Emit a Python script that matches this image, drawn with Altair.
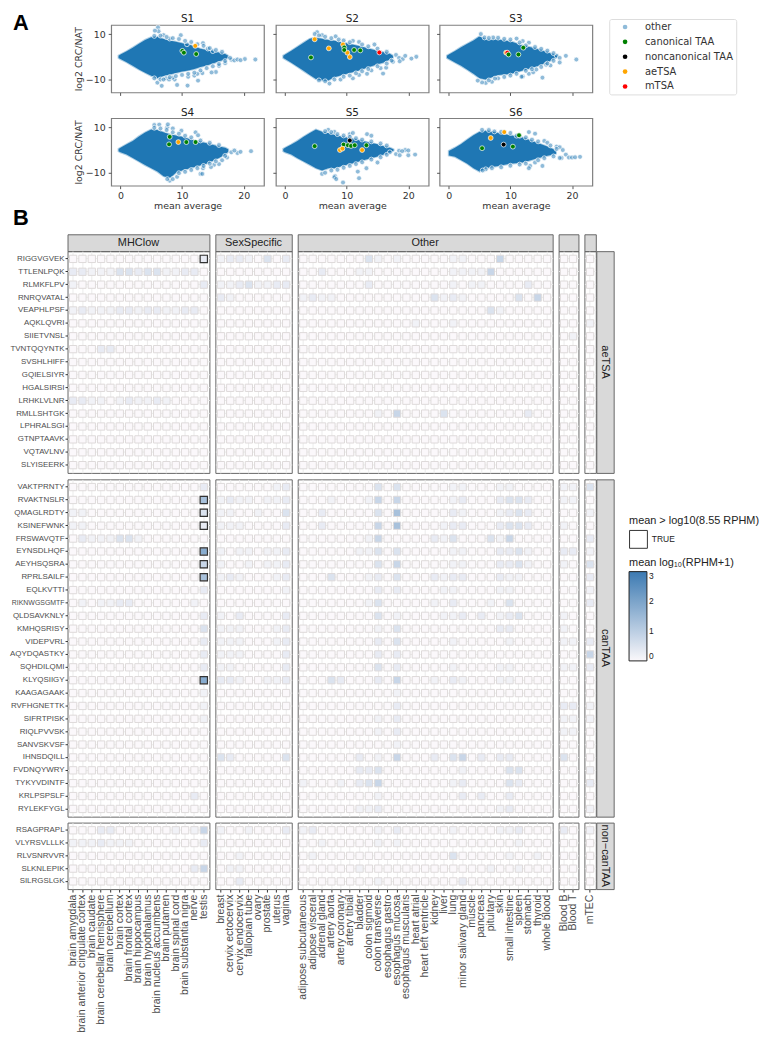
import altair as alt
import pandas as pd

BLUE = "#1f77b4"
CATS = ["other", "canonical TAA", "noncanonical TAA", "aeTSA", "mTSA"]
CAT_COLORS = ["rgba(31,119,180,0.5)", "#008000", "#000000", "#ffa500", "#ff0000"]

# ---- A: dense body of each cloud, read as x / upper / lower edge
ENV = {
    "S1": [(-0.3,0.5,-0.5),(0,1,-1),(1,2.4,-2.4),(2,4,-4),(3,5.7,-5.6),(4,7.4,-7),(5,8.6,-8.4),(6,8.8,-9.5),(7,7.8,-8.5),(8,7.2,-7.8),(9,6.6,-7.2),(10,6,-6.5),(11,5.5,-6),(12,4.5,-5.4),(13,3.5,-4.5),(14,3,-3.8),(15,2.4,-3),(16,1.9,-2),(17,1.2,-1.2),(17.5,0.4,-0.4)],
    "S2": [(-0.3,0.5,-0.5),(0,1,-1),(1,2.6,-2.6),(2,4.4,-4.4),(3,6.2,-6.2),(4,7.9,-8),(5,8.5,-9.8),(6,7.9,-10.5),(7,7.4,-10.5),(8,7,-9),(9,6.5,-8.2),(10,6,-7.5),(12,4.7,-6),(14,3.3,-4.2),(15,2.6,-3.3),(16,2,-2.5),(17,1.3,-1.2),(17.5,0.5,-0.5)],
    "S3": [(-0.3,0.5,-0.5),(0,1,-1),(1,2.5,-2.5),(2,4.2,-4),(3,5.7,-5.7),(4,7.2,-7.5),(5,9,-9.5),(6,7.6,-10),(7,7.6,-9),(8,7.6,-8),(10,6.8,-7.6),(12,5,-6),(14,3.8,-4.5),(16,2,-2.5),(17,1,-1),(17.6,0.3,-0.3)],
    "S4": [(-0.3,0.5,-0.5),(0,1,-1),(1,2.5,-2),(2,4,-3.5),(3,6,-5),(4,7.7,-6.6),(5,9,-8),(6,8.8,-9.5),(7,7.8,-11.5),(8,7,-12.4),(9,6.4,-10),(10,5.8,-9),(12,4.2,-7.5),(14,3,-6),(16,1.6,-3.5),(17,1,-2),(17.5,0.3,-0.8)],
    "S5": [(-0.3,0.5,-0.5),(0,1,-1),(1,2.4,-2),(2,4,-3.6),(3,5.8,-5),(4,7.5,-6.5),(5,9,-8),(6,8,-9),(7,7.5,-8),(8,6.8,-8),(9,6,-7.2),(10,5.5,-6.5),(11,5,-5.8),(12,4.3,-5),(13,3.7,-4.3),(15,2.5,-2.8),(16,1.7,-2),(17,1,-1),(17.6,0.3,-0.3)],
    "S6": [(0,-0.4,-2.4),(1,1,-3),(2,2.6,-4.5),(3,4.6,-6),(4,6.5,-8),(5,8,-9.5),(6,8.5,-8),(7,8,-7.5),(8,7.5,-7),(10,6.5,-6),(12,5.5,-5.5),(14,3.5,-4),(16,1.5,-2.5),(17,0.3,-2),(17.4,-0.6,-1.6)],
}
# ---- A: scattered points outside the dense body
OTHER = {
    "S1": [(6.1,12.9),(6.2,11.2),(5.6,11.5),(7,9.5),(8,8),(9.8,9.5),(10.8,5.5),(13.4,6),(14.2,3.6),(15,2.5),(18,-1.3),(18.5,-1.6),(19,-1.2),(20.2,-1),(21.9,-1.2),(17.8,-0.5),(19.5,-1.5),(17,-2.8),(16,-4),(15.5,-6.7),(14.8,-6.9),(13.3,-7.2),(12,-8.3),(12.6,-10.5),(10.9,-12.7),(9.2,-12.4),(6.7,-12.8),(6,-11.4),(8.8,-10),(8.5,-9.2),(11,-8.8),(12.5,-7.5),(7.4,-9.5),(7.9,-10),
           (5.5,9.2),(6.5,9.3),(7.5,8.7),(8.5,8.2),(9.5,7.8),(10.5,7),(11.5,6.5),(12.5,5.5),(13.5,4.8),(14.5,3.8),(15.5,3),(16.5,2.2),(5.5,-9.5),(6.5,-10),(7,-10),(8,-9),(9,-8.5),(10,-8),(11,-7.5),(12,-7),(13,-6),(14,-5),(15,-4.2),(16,-3.2),(17,-1.9)],
    "S2": [(5.2,10.8),(4.8,10),(6,9.5),(8.2,9),(8.7,7.6),(11,7),(12,6.5),(14.5,5.4),(18,0.8),(18.5,-0.5),(19.1,-1),(18.6,-2),(19.5,0.4),(20.5,-0.8),(21.3,0),(16.4,-4.8),(15.9,-7.4),(14,-6),(13.3,-7.5),(11,-9.5),(9,-10),(7.2,-11.8),(6.5,-10.8),(12,-8),(17.5,-2.2),(15.5,-5),
           (5.5,9.4),(6.5,8.8),(7.5,8.2),(9.5,7.2),(10.5,6.4),(12.5,5.4),(13.5,4.6),(15,3.6),(16.5,2.2),(5.5,-10.4),(8,-10),(9.5,-8.8),(10.5,-8.3),(11.5,-7.3),(12.5,-6.4),(13.5,-5.4),(15,-4.2),(16.5,-3),(17.3,-1.7)],
    "S3": [(5.2,10),(5.8,8.5),(7.2,8.5),(8,8.4),(10,7.6),(11,8),(12,6.9),(13,6.2),(17.5,0.5),(19,0.4),(18,-0.5),(20.7,-1.2),(18,-2.5),(15.8,-3.5),(16.5,-3.8),(15,-4.5),(15.2,-9.2),(12,-8.7),(11.8,-8.8),(13,-7.5),(13.7,-6.8),(14.2,-5.6),(7,-11),(6,-11.5),(5.4,-11.3),(8,-9.5),(4.7,-10.5),
           (6.5,8.3),(9,7.9),(11.5,6.3),(12.5,5),(14,4.3),(15,3.5),(16,2.7),(17,1.6),(6.5,-10.4),(7.5,-9.6),(9,-8.9),(10,-8.3),(11,-7.5),(12.5,-6.2),(13.5,-5.5),(16,-3),(17,-1.8)],
    "S4": [(5.5,11),(6.3,11.2),(7.6,10),(7.7,11.3),(8.5,9.5),(9.9,8.5),(12.2,7.8),(12.6,6.5),(18,-1),(19,-1.3),(21.2,-0.5),(19.5,-0.8),(18.5,-0.2),(16.5,-4.5),(17.3,-3.3),(16,-6.2),(15.2,-6.5),(13.4,-8),(13,-10.5),(8,-13.5),(7.6,-12.8),(8.5,-12.8),(9.2,-11.8),(13.3,-10.5),(14.7,-7.5),
           (5.5,9.8),(6.5,9.5),(7.5,8.8),(8.5,7.8),(9.5,7.2),(10.5,6.3),(11.5,5.6),(13,4.2),(14.5,3.2),(16,2.2),(9.5,-10.2),(10.5,-9.6),(11.5,-8.8),(12.5,-8),(13.5,-7),(14.5,-6),(15.5,-5),(17,-2.6)],
    "S5": [(7,8.9),(8,8),(10.5,7),(11,7.5),(13.3,7),(14,6.3),(8.1,-11.5),(8,-12),(8.3,-12.8),(9.4,-14.3),(6,-10.5),(6.5,-10),(12,-12.4),(11.8,-9.5),(13.2,-8),(15,-5.5),(17,-1),(18,-1.8),(18.5,-0.3),(19.5,0),(20,-2.3),(21.1,-2),(20,-0.2),(19,-0.5),(18.6,-2.3),
           (6.5,8.3),(7.5,7.9),(8.5,7),(9.5,6.4),(10.5,5.8),(11.5,5.2),(12.5,4.6),(14,3.8),(15.5,2.9),(16.5,2),(7.5,-9),(8.5,-8.7),(9.5,-7.8),(10.5,-7),(11.5,-6.2),(12.5,-5.4),(14,-4.2),(15.5,-3.2),(16.5,-2.1)],
    "S6": [(5.4,8.9),(7.4,8.2),(9,8),(10,7.5),(11,6.3),(13,7.9),(14,7.2),(15.5,4),(16,3.2),(17.5,1.5),(18,1.2),(18.5,0),(19,-2),(18.3,-3.5),(19.5,-3.3),(20,-3.3),(20.5,-3.2),(21.3,-3),(18,-3.5),(13.2,-7),(13,-8),(15.2,-7),(14,-5.5),(6,-8.5),
           (6.5,8.8),(8.5,8),(11.5,6.3),(12.5,5.6),(13.5,4.6),(14.5,3.8),(16.5,2),(17.5,0.5),(5.5,-9),(7,-8),(8.5,-7.6),(10,-6.9),(11.5,-6.4),(12.5,-6),(14.5,-4.5),(15.5,-3.6),(17,-2.8)],
}
# ---- A: labelled peptides
SPECIAL = {
    "S1": [("canonical TAA",10.05,2.6),("canonical TAA",10.3,1.8),("canonical TAA",12.3,1.2),("aeTSA",12.15,4.8)],
    "S2": [("aeTSA",4.8,7.7),("aeTSA",7.1,3.7),("aeTSA",9.4,5.4),("aeTSA",10.1,1.8),("aeTSA",10.5,-0.1),("canonical TAA",4.2,-0.3),("canonical TAA",9.6,4.1),("canonical TAA",9.6,3),("canonical TAA",11.2,3),("canonical TAA",12.2,2.8),("mTSA",15.3,1.9)],
    "S3": [("aeTSA",9.3,1.8),("mTSA",9.5,1.8),("canonical TAA",9.7,1),("canonical TAA",11.3,1),("canonical TAA",12.1,4)],
    "S4": [("canonical TAA",8,5.8),("canonical TAA",7.9,2.5),("canonical TAA",10.7,3.5),("canonical TAA",12.2,3.5),("aeTSA",9.4,3.5)],
    "S5": [("canonical TAA",4.8,1.7),("canonical TAA",9.5,2.4),("canonical TAA",10.2,2.1),("canonical TAA",10.7,1.8),("canonical TAA",11.3,2.1),("canonical TAA",13.2,2.1),("noncanonical TAA",10.5,4.2),("aeTSA",8.9,0),("aeTSA",9.3,0.6),("aeTSA",12.5,0)],
    "S6": [("canonical TAA",5.4,0.8),("canonical TAA",10.4,1.5),("canonical TAA",11.4,6.5),("noncanonical TAA",8.9,2.4),("aeTSA",6.8,5.3),("aeTSA",9,7.9)],
}

# ---- B: tissues
MHC = ["brain amygdala","brain anterior cingulate cortex","brain caudate","brain cerebellar hemisphere","brain cerebellum","brain cortex","brain frontal cortex","brain hippocampus","brain hypothalamus","brain nucleus accumbens","brain putamen","brain spinal cord","brain substantia nigra","nerve","testis"]
SEX = ["breast","cervix ectocervix","cervix endocervix","fallopian tube","ovary","prostate","uterus","vagina"]
OTH = ["adipose subcutaneous","adipose visceral","adrenal gland","artery aorta","artery coronary","artery tibial","bladder","colon sigmoid","colon transverse","esophagus gastro","esophagus mucosa","esophagus muscularis","heart atrial","heart left ventricle","kidney","liver","lung","minor salivary gland","muscle","pancreas","pituitary","skin","small intestine","spleen","stomach","thyroid","whole blood"]
BLOOD = ["Blood B","Blood T"]
MTEC = ["mTEC"]
GROUPS = [("MHClow", MHC), ("SexSpecific", SEX), ("Other", OTH), ("", BLOOD), ("", MTEC)]

# ---- B: shade class per cell: MHClow | SexSpecific | Other | Blood | mTEC
AE = [
 ("RIGGVGVEK","000000000000002|12210302|00000 00310 10000 01100 04000 00|00|0"),
 ("TTLENLPQK","221113323311220|00000000|00200 01100 00000 01111 40000 00|00|0"),
 ("RLMKFLPV","100000000000002|11231122|00000 00200 00000 01011 00002 00|00|0"),
 ("RNRQVATAL","000000000000000|21000000|12110 00000 00003 12100 00030 40|00|0"),
 ("VEAPHLPSF","121112212211220|00000000|00000 00000 00000 00000 31000 00|00|0"),
 ("AQKLQVRI","000000000000000|00000000|00000 00000 00100 01000 00000 00|00|1"),
 ("SIIETVNSL","000000000000000|00000000|00000 00000 00000 00000 00000 00|01|0"),
 ("TVNTQQYNTK","000220000000000|00000000|00000 00000 00000 00000 00000 00|00|0"),
 ("SVSHLHIFF","000000000000000|00000000|00000 00000 00000 00000 00000 00|00|0"),
 ("GQIELSIYR","000000000000000|00000000|00000 00000 00000 00000 00000 00|00|0"),
 ("HGALSIRSI","000000000000000|00000000|00000 00000 00000 00000 00000 00|00|0"),
 ("LRHKLVLNR","221101211210000|00000000|00000 00000 00000 00000 00000 00|00|0"),
 ("RMLLSHTGK","000000000000000|00000000|00000 00010 40000 30000 00002 00|00|0"),
 ("LPHRALSGI","000000000000000|00000000|00000 00000 00000 00000 00000 00|00|0"),
 ("GTNPTAAVK","000000000000000|00000000|00000 00000 00000 00000 00000 00|00|0"),
 ("VQTAVLNV","000000000000000|00000000|00000 00000 00000 00000 00000 00|00|0"),
 ("SLYISEERK","000000000000000|00000000|00000 00000 00000 00000 00000 00|00|0"),
]
CAN = [
 ("VAKTPRNTY","000000000000002|00000012|00000 00030 30000 01100 01100 00|11|3"),
 ("RVAKTNSLR","000000000000005|12110112|00010 00140 40000 01200 02332 00|11|0"),
 ("QMAGLRDTY","110000000000003|11001003|00200 00030 50000 02100 01232 00|00|1"),
 ("KSINEFWNK","110000000000002|11100002|00200 00040 50000 12200 02332 00|10|0"),
 ("FRSWAVQTF","021113310000000|00000000|00000 00140 00002 13000 31400 00|00|2"),
 ("EYNSDLHQF","000000000000006|10110112|00000 01130 30000 01100 02231 00|22|1"),
 ("AEYHSQSRA","000000000000004|10010112|00000 00030 40000 01100 02231 00|10|3"),
 ("RPRLSAILF","000000000000005|12100012|00030 00120 30002 12200 02110 00|00|2"),
 ("EQLKVTTI","000000000000002|00000001|00000 00020 20000 11000 01100 00|00|1"),
 ("RIKNWGSGMTF","010112200000010|00000000|00000 00130 00001 02000 10300 00|00|2"),
 ("QLDSAVKNLY","000000000000002|10200002|00000 00030 10000 11202 01230 00|10|0"),
 ("KMHQSRISY","000000000000003|11100012|00000 00010 30000 00000 02200 00|10|0"),
 ("VIDEPVRL","000000000000002|11100012|00000 00020 30000 01000 00100 00|11|2"),
 ("AQYDQASTKY","000000000000002|11100002|00000 00020 20000 00000 00000 00|00|4"),
 ("SQHDILQMI","000000000000002|11000002|00000 00030 20000 01000 01100 00|11|2"),
 ("KLYQSIIGY","000000000000006|22100112|00032 00020 40001 02100 01100 00|00|0"),
 ("KAAGAGAAK","000000000000001|00000000|00000 00000 10000 00000 00000 00|00|0"),
 ("RVFHGNETTK","000000000000001|00000000|00000 00000 20000 00000 00000 00|22|1"),
 ("SIFRTPISK","000000000000001|00000000|00000 00010 20000 00000 00000 00|11|1"),
 ("RIQLPVVSK","000000000000000|00000000|00000 00010 20000 00000 00000 00|11|0"),
 ("SANVSKVSF","000000000000000|00000000|00000 00000 10000 00000 00000 00|00|0"),
 ("IHNSDQILL","000000000000000|32000003|00000 02010 40002 03402 02200 00|30|0"),
 ("FVDNQYWRY","000000000000000|00000000|00000 02230 00000 00100 00330 00|00|1"),
 ("TYKYVDINTF","000000000000000|00000000|10001 02340 00000 01200 00320 00|00|2"),
 ("KRLPSPSLF","000000000000020|00000000|00000 00010 00000 00202 00200 00|00|0"),
 ("RYLEKFYGL","000000000000000|00000000|00000 01120 00000 00000 01200 00|00|1"),
]
NON = [
 ("RSAGPRAPL","000220000001014|10010002|12000 00010 20000 01000 01120 00|20|1"),
 ("VLYRSVLLLK","111211100000002|00000000|00100 00010 10000 00000 00010 00|00|0"),
 ("RLVSNRVVR","000000000000000|00100000|01000 00000 00000 03000 00100 10|00|0"),
 ("SLKNLEPIK","000000000000024|01100000|00000 01000 00000 00000 10010 00|00|0"),
 ("SILRGSLGK","000000000000000|00200000|00000 00010 00000 00200 00000 00|00|0"),
]
# value read for each shade class
SHADE = [0, 0.15, 0.3, 0.5, 0.8, 1.3, 1.8]
TRUE_PEPTIDES = ["RIGGVGVEK","RVAKTNSLR","QMAGLRDTY","KSINEFWNK","EYNSDLHQF","AEYHSQSRA","RPRLSAILF","KLYQSIIGY"]
BLOCKS = [("aeTSA", AE), ("canTAA", CAN), ("non−canTAA", NON)]

one = pd.DataFrame({"a": [0]})
TXT = "#333333"
FONT = "DejaVu Sans"
SANS = "Liberation Sans"

KIND_LEGEND = alt.Legend(title=None, orient="none", legendX=171, legendY=-6, fillColor="white", strokeColor="#dddddd", cornerRadius=2,
                         padding=3, symbolSize=22, symbolStrokeWidth=0, labelFont=FONT, labelFontSize=10, labelColor=TXT,
                         rowPadding=5, symbolOffset=8, labelOffset=15, symbolType="circle")
FILL_LEGEND = alt.Legend(title="mean log₁₀(RPHM+1)", orient="none", legendX=566, legendY=78, gradientLength=90, gradientThickness=18,
                         gradientStrokeColor="#222", gradientStrokeWidth=1, values=[0, 1, 2, 3], titleFont=SANS, titleFontSize=11,
                         titleFontWeight="normal", titleColor="#222", titleLimit=300, labelFont=SANS, labelFontSize=8.5, labelColor="#222", padding=0, titlePadding=4)
FLAG_LEGEND = alt.Legend(title="mean > log10(8.55 RPHM)", orient="none", legendX=566, legendY=36, symbolType="square", symbolSize=324,
                         symbolFillColor="white", symbolStrokeWidth=1, titleFont=SANS, titleFontSize=11, titleFontWeight="normal", titleColor="#222",
                         titleLimit=300, labelFont=SANS, labelFontSize=8.5, labelColor="#222", padding=0, titlePadding=4)


def spacer(w, h, letter=None, ly=0):
    c = alt.Chart(one)
    if letter:
        m = c.mark_text(text=letter, font=SANS, fontSize=22, fontWeight="bold", color="black", align="left", baseline="top")
        e = m.encode(x=alt.value(4), y=alt.value(ly))
    else:
        e = c.mark_text(text="", baseline="top", align="left").encode(x=alt.value(0), y=alt.value(0))
    return e.properties(width=w, height=h)


XS = alt.Scale(domain=[-1.5, 23.3], nice=False, zero=False)
YS = alt.Scale(domain=[-15.7, 14], nice=False, zero=False)
MINUS = "replace(format(datum.value,'d'),'-','−')"


def ma_panel(name, xlab, ylab, legend=None):
    env = pd.DataFrame(ENV[name], columns=["x", "up", "low"])
    pts = [("other", a, b) for a, b in OTHER[name]] + SPECIAL[name]
    p = pd.DataFrame(pts, columns=["kind", "x", "y"])
    p["o"] = range(len(p))
    xax = alt.Axis(values=[0, 5, 10, 15, 20], labels=xlab, title="mean average" if xlab else None, grid=False, domain=False,
                   tickColor="#555", tickSize=3, labelFont=FONT, labelFontSize=9.5, labelColor=TXT, titleFont=FONT, titleFontSize=9.5,
                   titleColor=TXT, titleFontWeight="normal", labelExpr=MINUS, titlePadding=1, labelPadding=1.5, labelOverlap=False, labelFlush=False)
    yax = alt.Axis(values=[-10, 0, 10], labels=ylab, title="log2 CRC/NAT" if ylab else None, grid=False, domain=False,
                   tickColor="#555", tickSize=3, labelFont=FONT, labelFontSize=9.5, labelColor=TXT, titleFont=FONT, titleFontSize=9.5,
                   titleColor=TXT, titleFontWeight="normal", labelExpr=MINUS, titlePadding=1.5, labelPadding=3, labelOverlap=False, labelFlush=False)
    area = alt.Chart(env).mark_area(color=BLUE, stroke=BLUE, strokeWidth=2, strokeOpacity=0.35, clip=True).encode(
        x=alt.X("x:Q", scale=XS, axis=xax), y=alt.Y("up:Q", scale=YS, axis=yax), y2="low:Q")
    dots = alt.Chart(p).mark_circle(stroke="white", strokeWidth=0.7, size=24, opacity=1).encode(
        x=alt.X("x:Q", scale=XS), y=alt.Y("y:Q", scale=YS),
        color=alt.Color("kind:N", scale=alt.Scale(domain=CATS, range=CAT_COLORS), legend=legend),
        order=alt.Order("o:Q"))
    head = alt.Chart(one).mark_text(text=name, font=FONT, fontSize=10.5, color="#222", align="center", baseline="alphabetic").encode(
        x=alt.value(77), y=alt.value(-2.5))
    return alt.layer(area, dots, head).properties(width=154, height=68, view=alt.ViewBackground(stroke="#7f7f7f", strokeWidth=1.2))


top_cells = [
    spacer(103, 12, "A"), spacer(154, 12), spacer(12, 12), spacer(154, 12), spacer(11, 12), spacer(154, 12),
    spacer(103, 68), ma_panel("S1", False, True), spacer(12, 68), ma_panel("S2", False, False), spacer(11, 68), ma_panel("S3", False, False, KIND_LEGEND),
    spacer(103, 26), spacer(154, 26), spacer(12, 26), spacer(154, 26), spacer(11, 26), spacer(154, 26),
    spacer(103, 68, "B", 91), ma_panel("S4", True, True), spacer(12, 68), ma_panel("S5", True, False), spacer(11, 68), ma_panel("S6", True, False),
]
top = alt.concat(*top_cells, columns=6, spacing=0, bounds="flush", align="each").resolve_scale(color="independent")

# ---- B grid
WIDTHS = [143, 77, 257, 20, 11.5]
HEIGHTS = [223.5, 340, 67]
LEFT = 59
STRIP_W = 17.5
STRIP_H = 17
GAP = 6


def cells(rows, tissues, offset):
    out = []
    for pep, s in rows:
        digits = s.replace(" ", "").replace("|", "")
        assert len(digits) == 53, pep
        for j, t in enumerate(tissues):
            v = SHADE[int(digits[offset + j])]
            out.append({"peptide": pep, "tissue": t, "value": v,
                        "flag": "TRUE" if (t == "testis" and pep in TRUE_PEPTIDES) else "FALSE"})
    return pd.DataFrame(out)


def band(dom):
    return alt.Scale(type="band", domain=dom, paddingInner=0, paddingOuter=0.1)


def heat(rows, tissues, offset, w, h, first_col, last_row, with_legend=False):
    d = cells(rows, tissues, offset)
    peps = [r[0] for r in rows]
    xa = alt.Axis(title=None, grid=True, gridColor="#ebebeb", gridWidth=1, domain=False, labels=last_row, ticks=last_row,
                  tickColor="#333", tickSize=3, labelAngle=270, labelAlign="right", labelBaseline="middle", labelFont=SANS,
                  labelFontSize=10.6, labelColor="#4d4d4d", labelLimit=400, labelOverlap=False, labelPadding=2)
    ya = alt.Axis(title=None, grid=True, gridColor="#ebebeb", gridWidth=1, domain=False, labels=first_col, ticks=first_col,
                  tickColor="#333", tickSize=2.5, labelFont=SANS, labelColor="#4d4d4d", labelOverlap=False, labelPadding=1,
                  labelFontSize={"condition": {"test": "datum.value==='RIKNWGSGMTF'", "value": 7.0}, "value": 8.0})
    base = alt.Chart(d).mark_square(size=54, stroke="#dedada", strokeWidth=1, opacity=1).encode(
        x=alt.X("tissue:N", scale=band(tissues), axis=xa),
        y=alt.Y("peptide:N", scale=band(peps), axis=ya),
        fill=alt.Fill("value:Q", scale=alt.Scale(domain=[0, 3], range=["#fbf8fb", "#3c7ab2"], interpolate="rgb"),
                      legend=FILL_LEGEND if with_legend else None))
    layers = [base]
    hi = d[d["flag"] == "TRUE"]
    if len(hi):
        layers.append(alt.Chart(hi).mark_point(shape="square", filled=False, size=54, strokeWidth=1.2, opacity=1).encode(
            x=alt.X("tissue:N", scale=band(tissues)),
            y=alt.Y("peptide:N", scale=band(peps)),
            stroke=alt.Stroke("flag:N", scale=alt.Scale(domain=["TRUE"], range=["#333333"]),
                              legend=FLAG_LEGEND if with_legend else None)))
    return alt.layer(*layers).properties(width=w, height=h, view=alt.ViewBackground(stroke="#666666", strokeWidth=1))


def strip(w, h, label, vertical=False):
    kw = {"angle": 90} if vertical else {}
    return alt.Chart(one).mark_text(text=label, font=SANS, fontSize=11, color="#222", align="center", baseline="middle", **kw).encode(
        x=alt.value(w / 2), y=alt.value(h / 2)).properties(width=w, height=h, view=alt.ViewBackground(fill="#d9d9d9", stroke="#666666", strokeWidth=1))


def row_of(h, fn, tail):
    out = [spacer(LEFT, h)]
    for i, w in enumerate(WIDTHS):
        out.append(fn(i, w))
        if i < len(WIDTHS) - 1:
            out.append(spacer(GAP, h))
    out.append(tail)
    return out


bottom_cells = []
# gap row above the strips
B_H = 5
bottom_cells += row_of(B_H, lambda i, w: spacer(w, B_H), spacer(STRIP_W, B_H))
# strip row
bottom_cells += row_of(STRIP_H, lambda i, w: strip(w, STRIP_H, GROUPS[i][0]), spacer(STRIP_W, STRIP_H))
offs = [0, 15, 23, 50, 52]
for k, (name, rows) in enumerate(BLOCKS):
    h = HEIGHTS[k]
    bottom_cells += row_of(
        h,
        lambda i, w, k=k, rows=rows, h=h: heat(rows, GROUPS[i][1], offs[i], w, h, i == 0, k == 2, with_legend=(i == 0 and k == 1)),
        strip(STRIP_W, h, name, True))
    if k < 2:
        bottom_cells += row_of(GAP, lambda i, w: spacer(w, GAP), spacer(STRIP_W, GAP))

bottom = alt.concat(*bottom_cells, columns=11, spacing=0, bounds="flush", align="each").resolve_scale(fill="independent", stroke="independent")

chart = (alt.vconcat(top, bottom, spacing=0)
         .resolve_scale(color="independent", fill="independent", stroke="independent")
         .properties(padding=0).configure_view(stroke=None))
chart.save("out.html", embed_options={"renderer": "svg", "actions": False})
